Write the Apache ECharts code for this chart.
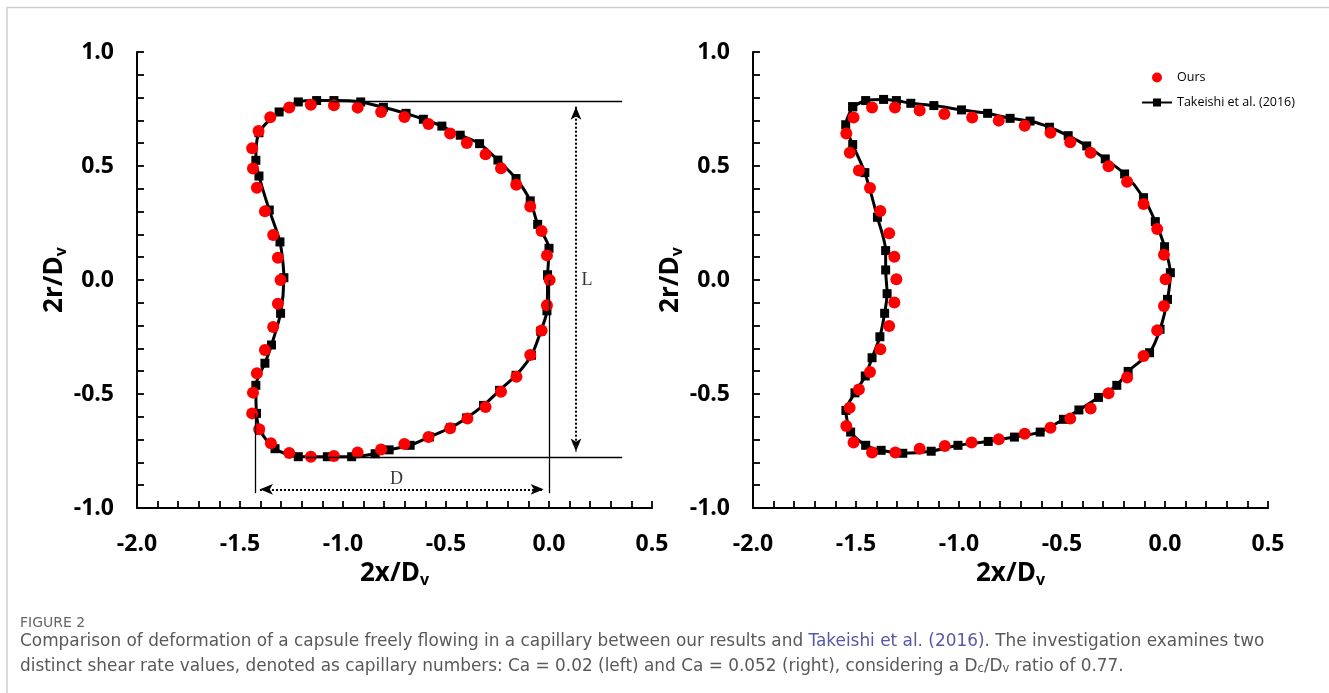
<!DOCTYPE html>
<html>
<head>
<meta charset="utf-8">
<script src="https://cdn.jsdelivr.net/npm/echarts@6/dist/echarts.min.js"></script>
<style>
  html, body { margin: 0; padding: 0; background: #fff; }
  #main { width: 1329px; height: 693px; }
</style>
</head>
<body>
<div id="main"></div>
<script>
// 数据：[2x/Dv, 2r/Dv]
var leftOurs = [
  [-1.441,0.578],[-1.437,0.489],[-1.418,0.405],[-1.379,0.301],[-1.339,0.197],[-1.316,0.098],
  [-1.303,0.0],[-1.316,-0.104],[-1.339,-0.206],[-1.379,-0.307],[-1.418,-0.409],[-1.437,-0.494],
  [-1.441,-0.585],[-1.407,-0.655],[-1.350,-0.716],[-1.261,-0.759],[-1.156,-0.775],[-1.044,-0.772],
  [-0.929,-0.757],[-0.815,-0.743],[-0.702,-0.719],[-0.585,-0.689],[-0.480,-0.650],[-0.396,-0.608],
  [-0.308,-0.557],[-0.233,-0.490],[-0.158,-0.424],[-0.091,-0.329],[-0.036,-0.221],[-0.010,-0.111],
  [0.003,0.0],[-0.010,0.108],[-0.036,0.215],[-0.091,0.322],[-0.159,0.418],[-0.233,0.490],
  [-0.308,0.551],[-0.399,0.601],[-0.480,0.643],[-0.585,0.684],[-0.702,0.715],[-0.815,0.737],
  [-0.929,0.756],[-1.044,0.766],[-1.156,0.769],[-1.261,0.757],[-1.353,0.714],[-1.410,0.654]
];
var leftTakeishi = [
  [-0.007,0.022],[0.000,0.139],[-0.055,0.244],[-0.091,0.347],[-0.160,0.445],[-0.248,0.526],
  [-0.337,0.598],[-0.431,0.635],[-0.520,0.675],[-0.610,0.705],[-0.694,0.731],[-0.804,0.757],
  [-0.914,0.781],[-1.044,0.787],[-1.128,0.787],[-1.217,0.781],[-1.310,0.737],[-1.408,0.646],
  [-1.423,0.525],[-1.408,0.456],[-1.358,0.307],[-1.306,0.167],[-1.287,0.010],[-1.303,-0.146],
  [-1.347,-0.285],[-1.379,-0.365],[-1.423,-0.462],[-1.420,-0.585],[-1.404,-0.659],[-1.330,-0.740],
  [-1.217,-0.775],[-1.076,-0.775],[-0.958,-0.775],[-0.844,-0.762],[-0.776,-0.745],[-0.674,-0.725],
  [-0.580,-0.688],[-0.478,-0.648],[-0.400,-0.605],[-0.318,-0.550],[-0.240,-0.484],[-0.160,-0.418],
  [-0.085,-0.330],[-0.040,-0.225],[-0.010,-0.135],[-0.007,0.022]
];
var rightOurs = [
  [-1.512,0.713],[-1.547,0.643],[-1.530,0.558],[-1.486,0.480],[-1.432,0.404],[-1.382,0.303],
  [-1.339,0.205],[-1.314,0.102],[-1.304,0.003],[-1.314,-0.099],[-1.339,-0.202],[-1.382,-0.304],
  [-1.432,-0.404],[-1.486,-0.480],[-1.531,-0.560],[-1.547,-0.640],[-1.512,-0.713],[-1.422,-0.757],
  [-1.309,-0.757],[-1.191,-0.740],[-1.069,-0.728],[-0.939,-0.713],[-0.807,-0.699],[-0.681,-0.674],
  [-0.556,-0.648],[-0.460,-0.608],[-0.361,-0.564],[-0.274,-0.497],[-0.184,-0.428],[-0.104,-0.333],
  [-0.038,-0.221],[-0.005,-0.114],[0.003,0.003],[-0.005,0.111],[-0.038,0.224],[-0.104,0.333],
  [-0.184,0.431],[-0.274,0.499],[-0.361,0.558],[-0.460,0.604],[-0.556,0.646],[-0.681,0.677],
  [-0.807,0.699],[-0.936,0.713],[-1.071,0.728],[-1.191,0.743],[-1.311,0.757],[-1.422,0.757]
];
var rightTakeishi = [
  [-1.516,0.760],[-1.453,0.787],[-1.366,0.792],[-1.304,0.787],[-1.234,0.775],[-1.122,0.765],
  [-0.988,0.746],[-0.861,0.731],[-0.752,0.709],[-0.655,0.697],[-0.561,0.670],[-0.470,0.633],
  [-0.380,0.588],[-0.290,0.531],[-0.196,0.465],[-0.104,0.361],[-0.047,0.256],[-0.002,0.146],
  [0.026,0.032],[0.012,-0.085],[-0.024,-0.216],[-0.075,-0.319],[-0.179,-0.401],[-0.234,-0.462],
  [-0.323,-0.515],[-0.418,-0.570],[-0.493,-0.611],[-0.606,-0.667],[-0.731,-0.689],[-0.858,-0.708],
  [-1.005,-0.725],[-1.135,-0.751],[-1.273,-0.760],[-1.378,-0.747],[-1.453,-0.725],[-1.526,-0.667],
  [-1.549,-0.572],[-1.505,-0.495],[-1.455,-0.421],[-1.422,-0.341],[-1.384,-0.249],[-1.361,-0.146],
  [-1.349,-0.060],[-1.356,0.044],[-1.356,0.129],[-1.396,0.275],[-1.457,0.471],[-1.516,0.594],
  [-1.550,0.681],[-1.516,0.760]
];
var xTickLabels = ['-2.0', '-1.5', '-1.0', '-0.5', '0.0', '0.5'];
var yTickLabels = ['-1.0', '-0.5', '0.0', '0.5', '1.0'];

// 左图标注 (L, D)
var guideLines = [
  [[-1.06, 0.782], [0.355, 0.782]],
  [[-1.18, -0.778], [0.355, -0.778]],
  [[-1.428, -0.585], [-1.428, -0.935]],
  [[0.0, 0.0], [0.0, -0.935]]
];
var arrowL = [[0.131, 0.760], [0.131, -0.752]];
var arrowD = [[-1.403, -0.918], [-0.026, -0.918]];
var guideText = [[0.185, 0.0, 'L'], [-0.74, -0.875, 'D']];

var Chart = echarts.init(document.getElementById('main'));

var labelFont = { fontFamily: 'Open Sans', fontWeight: 'bold', fontSize: 23, color: '#000' };
var nameRich = {
  m: { fontFamily: 'Open Sans', fontWeight: 'bold', fontSize: 26, lineHeight: 30, color: '#000' },
  s: { fontFamily: 'Open Sans', fontWeight: 'bold', fontSize: 16, lineHeight: 15, verticalAlign: 'bottom', color: '#000' }
};

function pick(list) {
  return function (v) {
    var s = v.toFixed(1);
    if (s === '-0.0') s = '0.0';
    return list.indexOf(s) >= 0 ? s : '';
  };
}

function xAxis(idx) {
  return {
    type: 'value', gridIndex: idx, min: -2, max: 0.5, interval: 0.1,
    name: '{m|2x/D}{s|v}', nameLocation: 'middle', nameGap: 42,
    nameTextStyle: { rich: nameRich },
    axisLine: { show: true, onZero: false, lineStyle: { color: '#000', width: 2 } },
    axisTick: { show: true, inside: true, length: 7, lineStyle: { color: '#000', width: 1.8 } },
    axisLabel: Object.assign({ margin: 25, formatter: pick(xTickLabels) }, labelFont),
    splitLine: { show: false }
  };
}
function yAxis(idx) {
  return {
    type: 'value', gridIndex: idx, min: -1, max: 1, interval: 0.1,
    name: '{m|2r/D}{s|v}', nameLocation: 'middle', nameGap: 62,
    nameTextStyle: { rich: nameRich },
    axisLine: { show: true, onZero: false, lineStyle: { color: '#000', width: 2 } },
    axisTick: { show: true, inside: true, length: 7, lineStyle: { color: '#000', width: 1.8 } },
    axisLabel: Object.assign({ margin: 23, formatter: pick(yTickLabels) }, labelFont),
    splitLine: { show: false }
  };
}

function takeishi(data, idx) {
  return {
    name: 'Takeishi et al. (2016)', type: 'line', xAxisIndex: idx, yAxisIndex: idx,
    data: data, smooth: 0.25, symbol: 'rect', symbolSize: 9, showAllSymbol: true,
    itemStyle: { color: '#000' }, lineStyle: { color: '#000', width: 3 },
    z: 2, silent: true, animation: false
  };
}
function ours(data, idx) {
  return {
    name: 'Ours', type: 'scatter', xAxisIndex: idx, yAxisIndex: idx,
    data: data, symbol: 'circle', symbolSize: 12,
    itemStyle: { color: '#ff0000', opacity: 1 },
    z: 3, silent: true, animation: false
  };
}

var option = {
  animation: false,
  backgroundColor: '#fff',
  grid: [
    { left: 137, top: 52, width: 515, height: 456, outerBoundsMode: 'none' },
    { left: 753, top: 52, width: 515, height: 456, outerBoundsMode: 'none' }
  ],
  xAxis: [xAxis(0), xAxis(1)],
  yAxis: [yAxis(0), yAxis(1)],
  legend: {
    orient: 'vertical', left: 1136, top: 66, itemGap: 12,
    itemWidth: 30, itemHeight: 10,
    data: ['Ours', 'Takeishi et al. (2016)'],
    textStyle: { fontFamily: 'Open Sans', fontSize: 12.5, color: '#000' }
  },
  series: [
    takeishi(leftTakeishi, 0),
    ours(leftOurs, 0),
    takeishi(rightTakeishi, 1),
    ours(rightOurs, 1),
    {
      type: 'line', xAxisIndex: 0, yAxisIndex: 0, data: [], silent: true,
      markLine: {
        silent: true, animation: false, symbol: ['none', 'none'],
        label: { show: false },
        lineStyle: { color: '#000', width: 1.3, type: 'solid' },
        data: guideLines.map(function (s) {
          return [{ coord: s[0] }, { coord: s[1] }];
        })
      }
    },
    {
      type: 'line', xAxisIndex: 0, yAxisIndex: 0, data: [], silent: true,
      markLine: {
        silent: true, animation: false, symbol: ['arrow', 'arrow'], symbolSize: [8, 13],
        label: { show: false },
        lineStyle: { color: '#000', width: 2, type: 'dotted' },
        data: [arrowL, arrowD].map(function (s) {
          return [{ coord: s[0] }, { coord: s[1] }];
        })
      }
    },
    {
      type: 'scatter', xAxisIndex: 0, yAxisIndex: 0, symbolSize: 0, silent: true,
      data: guideText,
      label: {
        show: true, position: 'inside', formatter: function (p) { return p.value[2]; },
        fontFamily: 'Liberation Serif', fontSize: 18, color: '#000'
      }
    }
  ],
  graphic: [
    {
      type: 'polyline', silent: true,
      shape: { points: [[7, 693], [7, 7.5], [1329, 7.5]] },
      style: { stroke: '#cfcfcf', lineWidth: 1.5, fill: null }
    },
    {
      type: 'text', left: 20, top: 616, silent: true,
      style: { text: 'FIGURE 2', font: '14px "DejaVu Sans"', fill: '#666' }
    },
    {
      type: 'text', left: 20, top: 633, silent: true,
      style: {
        text: '{a|Comparison of deformation of a capsule freely flowing in a capillary between our results and }{l|Takeishi et al. (2016)}{a|. The investigation examines two}',
        rich: {
          a: { fontFamily: 'DejaVu Sans', fontSize: 16.9, fill: '#595959' },
          l: { fontFamily: 'DejaVu Sans', fontSize: 16.9, fill: '#5558a8' }
        }
      }
    },
    {
      type: 'text', left: 20, top: 658, silent: true,
      style: {
        text: '{a|distinct shear rate values, denoted as capillary numbers: Ca = 0.02 (left) and Ca = 0.052 (right), considering a D}{s|c}{a|/D}{s|v}{a| ratio of 0.77.}',
        rich: {
          a: { fontFamily: 'DejaVu Sans', fontSize: 16.9, lineHeight: 23, fill: '#595959', verticalAlign: 'bottom' },
          s: { fontFamily: 'DejaVu Sans', fontSize: 11.5, lineHeight: 12, fill: '#595959', verticalAlign: 'bottom' }
        }
      }
    }
  ]
};
Chart.setOption(option);
</script>
</body>
</html>
